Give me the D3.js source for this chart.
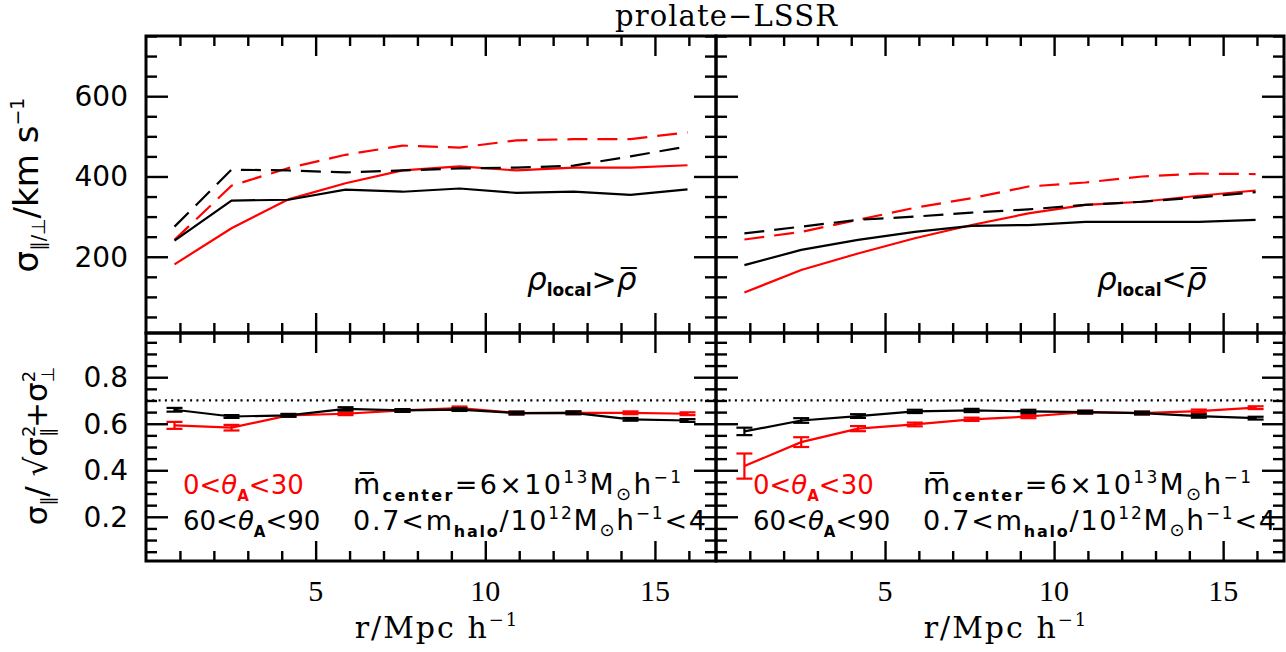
<!DOCTYPE html>
<html>
<head>
<meta charset="utf-8">
<script src="https://cdn.jsdelivr.net/npm/d3@7"></script>
<style>
  body { margin: 0; background: #fff; }
</style>
</head>
<body>
<div id="chart"></div>
<script>
/* sigma_par / sigma_perp vs r, prolate-LSSR, two local-density bins */

// bin centres in r / Mpc h^-1
const rBins = [0.84, 2.52, 4.2, 5.88, 7.56, 9.24, 10.92, 12.6, 14.28, 15.96];

// top row: dispersion in km/s (solid and dashed curves)
const denseSolidBlack = [240, 340, 342, 367, 362, 370, 359, 362, 354, 368];
const denseSolidRed   = [181, 271, 343, 383, 415, 425, 415, 422, 422, 428];
const denseDashBlack  = [275, 417, 415, 410, 415, 420, 422, 427, 450, 475];
const denseDashRed    = [242, 377, 421, 454, 477, 472, 490, 493, 493, 510];

const sparseSolidBlack = [179, 217, 242, 262, 277, 279, 287, 287, 287, 292];
const sparseSolidRed   = [111, 167, 208, 246, 279, 308, 329, 337, 352, 365];
const sparseDashBlack  = [258, 275, 292, 300, 310, 318, 329, 337, 348, 361];
const sparseDashRed    = [243, 262, 292, 322, 346, 375, 385, 400, 407, 406];

// bottom row: ratio and its error
const denseRatioBlack = [0.660, 0.631, 0.636, 0.664, 0.657, 0.661, 0.646, 0.647, 0.619, 0.614];
const denseErrBlack   = [0.008, 0.006, 0.006, 0.007, 0.006, 0.006, 0.006, 0.006, 0.006, 0.006];
const denseRatioRed   = [0.593, 0.583, 0.636, 0.643, 0.657, 0.667, 0.646, 0.647, 0.647, 0.643];
const denseErrRed     = [0.015, 0.012, 0.006, 0.006, 0.006, 0.007, 0.006, 0.006, 0.006, 0.006];

const sparseRatioBlack = [0.567, 0.614, 0.633, 0.653, 0.657, 0.653, 0.650, 0.646, 0.633, 0.624];
const sparseErrBlack   = [0.016, 0.010, 0.008, 0.007, 0.007, 0.007, 0.006, 0.006, 0.007, 0.006];
const sparseRatioRed   = [0.418, 0.521, 0.579, 0.597, 0.619, 0.631, 0.650, 0.646, 0.654, 0.669];
const sparseErrRed     = [0.054, 0.021, 0.011, 0.008, 0.007, 0.007, 0.006, 0.006, 0.007, 0.006];

const xTickLabels = [5, 10, 15];
const yTopTickLabels = [200, 400, 600];
const yBotTickLabels = [0.2, 0.4, 0.6, 0.8];

const width = 1286, height = 652;
const cols = [{ x0: 146, x1: 716 }, { x0: 716, x1: 1284 }];
const topRow = { y0: 36, y1: 333 }, botRow = { y0: 333, y1: 561 };

const sans = "'DejaVu Sans', 'Liberation Sans', sans-serif";
const serif = "'DejaVu Serif', 'Liberation Serif', serif";
const serifTicks = "'Liberation Serif', 'DejaVu Serif', serif";

let svg = d3.select("#chart").append("svg")
    .attr("width", width).attr("height", height)
    .attr("viewBox", [0, 0, width, height]);

// text with sub/superscripts; seg.back stacks it under the previous piece
function rich(parent, x, y, segs, fam, anchor) {
    const t = parent.append("text")
        .attr("x", x).attr("y", y)
        .attr("font-family", fam)
        .attr("text-anchor", anchor || "start");
    let cur = 0, lastW = 0;
    segs.forEach(s => {
        const sp = t.append("tspan").text(s.t).attr("font-size", s.size);
        const shift = s.shift || 0;
        if (shift - cur !== 0) sp.attr("dy", shift - cur);
        cur = shift;
        if (s.back) sp.attr("dx", -lastW);
        if (s.bold) sp.attr("font-weight", "bold");
        if (s.it) sp.attr("font-style", "italic");
        lastW = sp.node().getComputedTextLength();
    });
    return t;
}

function inwardTicks(g, x, y, yMinor, yMajor, box) {
    const xMinor = d3.range(1, 17).filter(v => v % 5 !== 0);
    const xMajor = xTickLabels;
    const put = (axis, tx, ty, vals, len) => {
        g.append("g")
            .attr("transform", `translate(${tx},${ty})`)
            .call(axis.tickValues(vals).tickSize(-len).tickFormat(""))
            .call(a => a.select(".domain").remove())
            .call(a => a.selectAll("line").attr("stroke", "#000").attr("stroke-width", 2.4));
    };
    put(d3.axisBottom(x), 0, box.y1, xMinor, 10);
    put(d3.axisBottom(x), 0, box.y1, xMajor, 20);
    put(d3.axisTop(x), 0, box.y0, xMinor, 10);
    put(d3.axisTop(x), 0, box.y0, xMajor, 20);
    put(d3.axisLeft(y), box.x0, 0, yMinor, 11);
    put(d3.axisLeft(y), box.x0, 0, yMajor, 22);
    put(d3.axisRight(y), box.x1, 0, yMinor, 11);
    put(d3.axisRight(y), box.x1, 0, yMajor, 22);
}

const topPanels = [
    { lines: [[denseSolidRed, "red", null], [denseDashRed, "red", "20,10"],
              [denseSolidBlack, "#000", null], [denseDashBlack, "#000", "20,10"]], sign: ">" },
    { lines: [[sparseSolidRed, "red", null], [sparseDashRed, "red", "20,10"],
              [sparseSolidBlack, "#000", null], [sparseDashBlack, "#000", "20,10"]], sign: "<" }
];
const botPanels = [
    { sets: [[denseRatioRed, denseErrRed, "red"], [denseRatioBlack, denseErrBlack, "#000"]] },
    { sets: [[sparseRatioRed, sparseErrRed, "red"], [sparseRatioBlack, sparseErrBlack, "#000"]] }
];

cols.forEach((c, ci) => {
    const x = d3.scaleLinear().domain([0, 16.8]).range([c.x0, c.x1]);

    // ---------- top panel ----------
    const yT = d3.scaleLinear().domain([10, 750]).range([topRow.y1, topRow.y0]);
    const gT = svg.append("g");
    const boxT = { x0: c.x0, x1: c.x1, y0: topRow.y0, y1: topRow.y1 };

    const line = d3.line().x((d, i) => x(rBins[i])).y(d => yT(d));
    topPanels[ci].lines.forEach(([vals, col, dash]) => {
        gT.append("path").datum(vals)
            .attr("d", line)
            .attr("fill", "none")
            .attr("stroke", col)
            .attr("stroke-width", 2.2)
            .attr("stroke-dasharray", dash);
    });

    inwardTicks(gT, x, yT, d3.range(50, 751, 50).filter(v => v % 200 !== 0), yTopTickLabels, boxT);

    rich(gT, c.x0 + 381, 290, [
        { t: "ρ", size: 31, it: true },
        { t: "local", size: 17, bold: true, shift: 6 },
        { t: topPanels[ci].sign, size: 30, shift: 0 },
        { t: "ρ\u0305", size: 31, it: true }
    ], sans);

    // ---------- bottom panel ----------
    const yB = d3.scaleLinear().domain([0.01, 0.99]).range([botRow.y1, botRow.y0]);
    const gB = svg.append("g");
    const boxB = { x0: c.x0, x1: c.x1, y0: botRow.y0, y1: botRow.y1 };

    gB.append("line")
        .attr("x1", c.x0).attr("x2", c.x1)
        .attr("y1", yB(0.7)).attr("y2", yB(0.7))
        .attr("stroke", "#000").attr("stroke-width", 2.2)
        .attr("stroke-dasharray", "2,4.3");

    const rline = d3.line().x((d, i) => x(rBins[i])).y(d => yB(d));
    botPanels[ci].sets.forEach(([vals, errs, col]) => {
        gB.append("path").datum(vals)
            .attr("d", rline)
            .attr("fill", "none")
            .attr("stroke", col)
            .attr("stroke-width", 2.2);
        const eb = gB.append("g").attr("stroke", col).attr("stroke-width", 2.2);
        vals.forEach((v, i) => {
            const cx = x(rBins[i]), lo = yB(v - errs[i]), hi = yB(v + errs[i]);
            eb.append("line").attr("x1", cx).attr("x2", cx).attr("y1", lo).attr("y2", hi);
            eb.append("line").attr("x1", cx - 8).attr("x2", cx + 8).attr("y1", lo).attr("y2", lo);
            eb.append("line").attr("x1", cx - 8).attr("x2", cx + 8).attr("y1", hi).attr("y2", hi);
        });
    });

    inwardTicks(gB, x, yB, d3.range(0.05, 0.99, 0.05).filter(v => Math.abs(v * 5 - Math.round(v * 5)) > 1e-6),
        yBotTickLabels, boxB);

    // legend text
    rich(gB, c.x0 + 37, 494, [
        { t: "0<", size: 26 }, { t: "θ", size: 26, it: true },
        { t: "A", size: 15, bold: true, shift: 7 }, { t: "<30", size: 26, shift: 0 }
    ], sans).attr("fill", "red");
    rich(gB, c.x0 + 37, 530, [
        { t: "60<", size: 26 }, { t: "θ", size: 26, it: true },
        { t: "A", size: 15, bold: true, shift: 7 }, { t: "<90", size: 26, shift: 0 }
    ], sans);
    rich(gB, c.x0 + 207, 494, [
        { t: "m\u0305", size: 28 },
        { t: "center", size: 16, bold: true, shift: 7 },
        { t: "=6×10", size: 27, shift: 0 },
        { t: "13", size: 17, shift: -11 },
        { t: "M", size: 28, shift: 0 },
        { t: "⊙", size: 18, shift: 6 },
        { t: "h", size: 28, shift: 0 },
        { t: "−1", size: 17, shift: -11 }
    ], sans).attr("textLength", 328).attr("lengthAdjust", "spacing");
    rich(gB, c.x0 + 207, 530, [
        { t: "0.7<m", size: 27 },
        { t: "halo", size: 16, bold: true, shift: 7 },
        { t: "/10", size: 27, shift: 0 },
        { t: "12", size: 17, shift: -11 },
        { t: "M", size: 28, shift: 0 },
        { t: "⊙", size: 18, shift: 6 },
        { t: "h", size: 28, shift: 0 },
        { t: "−1", size: 17, shift: -11 },
        { t: "<4", size: 27, shift: 0 }
    ], sans).attr("textLength", 353).attr("lengthAdjust", "spacing");

    // x tick labels and axis title
    svg.append("g").selectAll("text")
        .data(xTickLabels).join("text")
        .attr("x", d => x(d)).attr("y", 601)
        .attr("text-anchor", "middle")
        .attr("font-family", serifTicks).attr("font-size", 30)
        .text(d => d);
    rich(svg, (c.x0 + c.x1) / 2 + 6, 638, [
        { t: "r/Mpc h", size: 30 }, { t: "−1", size: 18, shift: -12 }
    ], serif, "middle").attr("letter-spacing", 2);

    // y tick labels only on the left column
    if (ci === 0) {
        svg.append("g").selectAll("text")
            .data(yTopTickLabels).join("text")
            .attr("x", 128).attr("y", d => yT(d) + 10)
            .attr("text-anchor", "end")
            .attr("font-family", sans).attr("font-size", 28)
            .text(d => d);
        svg.append("g").selectAll("text")
            .data(yBotTickLabels).join("text")
            .attr("x", 128).attr("y", d => yB(d) + 10)
            .attr("text-anchor", "end")
            .attr("font-family", sans).attr("font-size", 28)
            .text(d => d3.format(".1f")(d));
    }

    // frames
    [boxT, boxB].forEach(b => {
        svg.append("rect")
            .attr("x", b.x0).attr("y", b.y0)
            .attr("width", b.x1 - b.x0).attr("height", b.y1 - b.y0)
            .attr("fill", "none").attr("stroke", "#000").attr("stroke-width", 3);
    });
});

// y-axis titles (rotated)
const yl1 = svg.append("g").attr("transform", "translate(38,185) rotate(-90)");
rich(yl1, 0, 0, [
    { t: "σ", size: 34 }, { t: "∥/⊥", size: 19, shift: 7 },
    { t: "/km s", size: 34, shift: 0 }, { t: "−1", size: 19, shift: -14 }
], sans, "middle");

const yl2 = svg.append("g").attr("transform", "translate(47,446) rotate(-90)");
rich(yl2, 0, 0, [
    { t: "σ", size: 31 }, { t: "∥", size: 18, shift: 7 },
    { t: "/ √", size: 31, shift: 0 },
    { t: "σ", size: 31 }, { t: "2", size: 18, shift: -12 }, { t: "∥", size: 18, shift: 7, back: true },
    { t: "+σ", size: 31, shift: 0 }, { t: "2", size: 18, shift: -12 }, { t: "⊥", size: 18, shift: 7, back: true }
], sans, "middle");

// title
svg.append("text")
    .attr("x", 615).attr("y", 26)
    .attr("font-family", serif).attr("font-size", 29)
    .attr("textLength", 222).attr("lengthAdjust", "spacing")
    .text("prolate−LSSR");
</script>
</body>
</html>
